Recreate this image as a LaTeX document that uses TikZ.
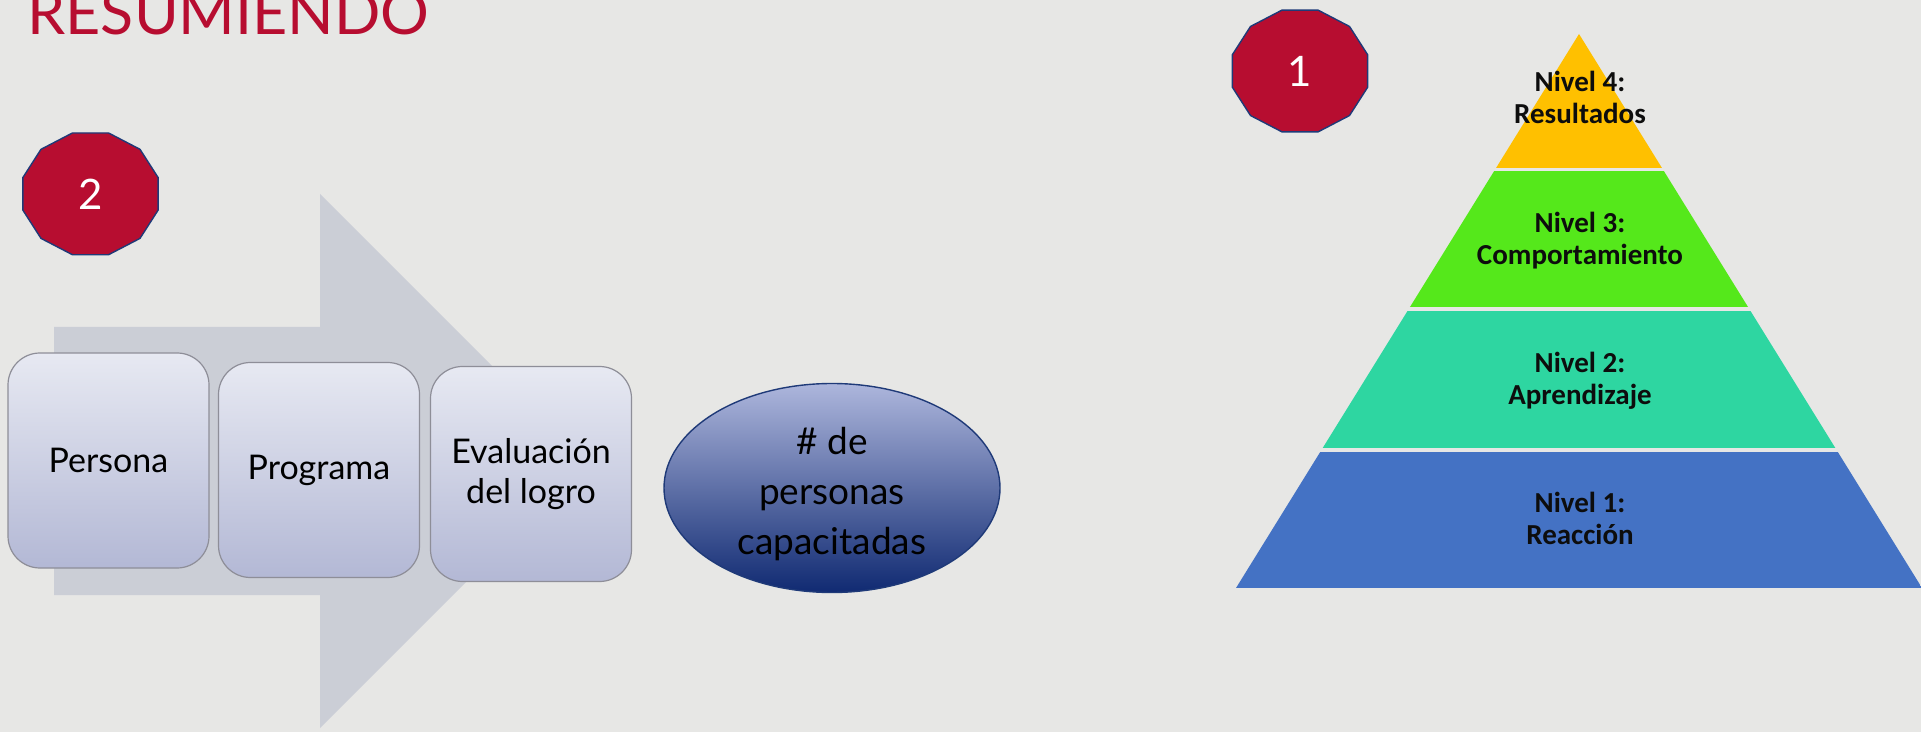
\documentclass[tikz,border=0pt]{standalone}
\usepackage{fontspec}
\setmainfont{Lato}
\newfontfamily\pyrfont{Carlito}
\usetikzlibrary{shapes.geometric}
\definecolor{bg}{HTML}{E7E7E5}
\definecolor{crimson}{HTML}{B70D30}
\definecolor{navy}{HTML}{1F3A78}
\definecolor{arrowgrey}{HTML}{CBCED6}
\definecolor{boxtop}{HTML}{E7E9F2}
\definecolor{boxbot}{HTML}{B3B8D5}
\definecolor{boxline}{HTML}{8E8E98}
\definecolor{elltop}{HTML}{ADB6DC}
\definecolor{ellmid}{HTML}{8A94C2}
\definecolor{ellbot}{HTML}{102A72}
\definecolor{lvfour}{HTML}{FFC000}
\definecolor{lvthree}{HTML}{55E81B}
\definecolor{lvtwo}{HTML}{2ED6A1}
\definecolor{lvone}{HTML}{4472C4}
\begin{document}
\begin{tikzpicture}[x=0.5pt,y=-0.5pt,
  stepbox/.style={draw=boxline, line width=0.6pt, rounded corners=16pt,
    top color=boxtop, bottom color=boxbot, shading angle=0,
    minimum width=100.5pt, minimum height=107.5pt, align=center,
    font=\fontsize{17}{20}\selectfont, inner sep=0pt},
  resultell/.style={ellipse, draw=navy, line width=0.7pt,
    top color=elltop, middle color=ellmid, bottom color=ellbot,
    minimum width=168pt, minimum height=104.5pt, inner sep=0pt, align=center,
    font=\fontsize{18.5}{25}\selectfont},
  badge/.style={fill=crimson, draw=navy, line width=0.7pt},
  badgetext/.style={text=white, font=\fontsize{21}{24}\selectfont, inner sep=0pt},
  leveltext/.style={align=center, text=black!95, inner sep=0pt,
    font=\pyrfont\bfseries\fontsize{14.5}{16}\selectfont}
]
\useasboundingbox (0,0) rectangle (1921,732);
\fill[bg] (0,0) rectangle (1921,732);

% title
\node[anchor=base west, inner sep=0pt, text=crimson, font=\fontsize{30.5}{34}\selectfont] (title) at (27,35) {RESUMIENDO};

% big arrow
\fill[arrowgrey] (54,327) -- (320,327) -- (320,194) -- (587,461) -- (320,728) -- (320,595) -- (54,595) -- cycle;

% badge 2
\draw[badge] plot[samples at={15,45,...,345}, variable=\t] ({90.5+70*cos(\t)},{193.85+63*sin(\t)}) -- cycle;
\node[badgetext] (b2) at (90.5,194) {2};

% boxes
\node[stepbox] (persona) at (108.5,460.5) {Persona};
\node[stepbox] (programa) at (319,470) {Programa};
\node[stepbox] (evaluacion) at (531,474) {Evaluación\\del logro};

% ellipse
\node[resultell] (result) at (832,488) {\rule{0pt}{19.5pt}\#~de\\personas\\capacitadas};

% badge 1
\draw[badge] plot[samples at={15,45,...,345}, variable=\t] ({1300+70*cos(\t)},{71+63*sin(\t)}) -- cycle;
\node[badgetext] (b1) at (1300,71) {1};

% pyramid
\begin{scope}
\clip (1579,34) -- (1922,588) -- (1236,588) -- cycle;
\fill[lvfour] (1200,30) rectangle (1930,168.5);
\fill[lvthree] (1200,171.5) rectangle (1930,307);
\fill[lvtwo] (1200,311.5) rectangle (1930,447.5);
\fill[lvone] (1200,451.5) rectangle (1930,588);
\end{scope}
\node[leveltext] (n4) at (1580,97.3) {Nivel 4:\\Resultados};
\node[leveltext] (n3) at (1580,240.3) {Nivel 3:\\Comportamiento};
\node[leveltext] (n2) at (1580,380.8) {Nivel 2:\\Aprendizaje};
\node[leveltext] (n1) at (1580,518.3) {Nivel 1:\\Reacción};
\end{tikzpicture}
\end{document}
